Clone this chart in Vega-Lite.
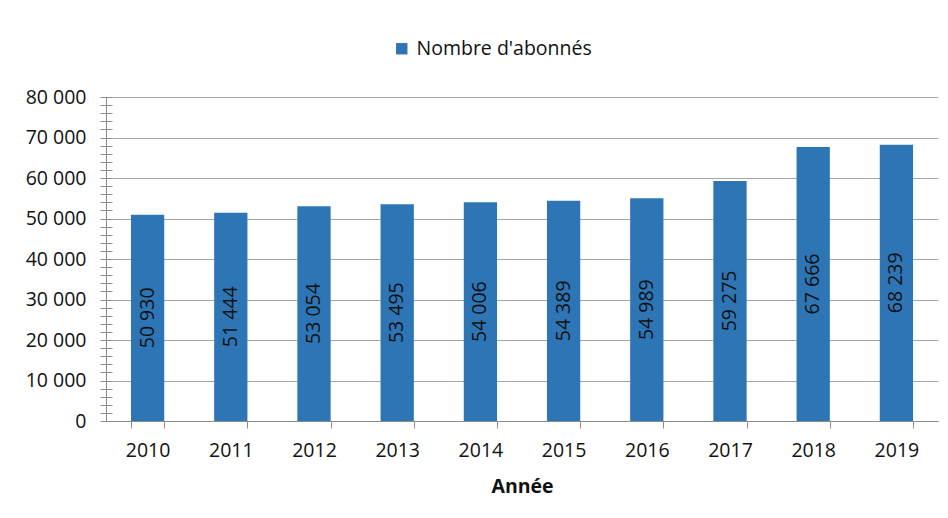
{
  "$schema": "https://vega.github.io/schema/vega-lite/v6.json",
  "width": 832,
  "height": 324,
  "autosize": {"type": "none"},
  "padding": {"left": 106, "top": 97, "right": 10, "bottom": 97},
  "background": "white",
  "config": {
    "locale": {"number": {"decimal": ",", "thousands": " ", "grouping": [3], "currency": ["", " €"]}},
    "font": "Open Sans",
    "view": {"stroke": null},
    "axis": {"labelFont": "Open Sans", "titleFont": "Open Sans", "labelColor": "#111111", "titleColor": "#111111"}
  },
  "data": {
    "values": [
      {"annee": "2010", "abonnes": 50930},
      {"annee": "2011", "abonnes": 51444},
      {"annee": "2012", "abonnes": 53054},
      {"annee": "2013", "abonnes": 53495},
      {"annee": "2014", "abonnes": 54006},
      {"annee": "2015", "abonnes": 54389},
      {"annee": "2016", "abonnes": 54989},
      {"annee": "2017", "abonnes": 59275},
      {"annee": "2018", "abonnes": 67666},
      {"annee": "2019", "abonnes": 68239}
    ]
  },
  "encoding": {
    "x": {
      "field": "annee",
      "type": "ordinal",
      "scale": {"paddingInner": 0.6, "paddingOuter": 0.3},
      "axis": {
        "title": "Année",
        "labelAngle": 0,
        "labelFontSize": 19.5,
        "labelPadding": 13,
        "tickBand": "extent",
        "tickSize": 7,
        "tickColor": "#8c8c8c",
        "domainColor": "#8c8c8c",
        "titleFontSize": 19.5,
        "titleFontWeight": "bold",
        "titlePadding": 18
      }
    }
  },
  "layer": [
    {
      "mark": {"type": "bar"},
      "encoding": {
        "y": {
          "field": "abonnes",
          "type": "quantitative",
          "scale": {"domain": [0, 80000], "nice": false},
          "axis": {
            "title": null,
            "values": [0, 10000, 20000, 30000, 40000, 50000, 60000, 70000, 80000],
            "format": ",d",
            "labelFontSize": 19.5,
            "labelPadding": 20,
            "ticks": false,
            "domainColor": "#8c8c8c",
            "gridColor": "#a6a6a6",
            "grid": true
          }
        },
        "color": {
          "datum": "Nombre d'abonnés",
          "scale": {"range": ["#2E75B6"]},
          "legend": {
            "title": null,
            "orient": "none",
            "legendX": 286,
            "legendY": -58,
            "symbolType": "square",
            "symbolSize": 130,
            "symbolStrokeWidth": 0,
            "labelOffset": 5,
            "labelLimit": 0,
            "labelFontSize": 19.5,
            "labelFont": "Open Sans",
            "labelColor": "#111111"
          }
        }
      }
    },
    {
      "transform": [{"calculate": "datum.abonnes / 2", "as": "milieu"}],
      "mark": {"type": "text", "angle": 270, "align": "center", "baseline": "middle", "fontSize": 19.5, "color": "#111111"},
      "encoding": {
        "y": {
          "field": "milieu",
          "type": "quantitative",
          "axis": {
            "orient": "left",
            "offset": -6,
            "title": null,
            "labels": false,
            "domain": false,
            "grid": false,
            "tickSize": 12,
            "tickColor": "#8c8c8c",
            "values": [0, 2000, 4000, 6000, 8000, 10000, 12000, 14000, 16000, 18000, 20000, 22000, 24000, 26000, 28000, 30000, 32000, 34000, 36000, 38000, 40000, 42000, 44000, 46000, 48000, 50000, 52000, 54000, 56000, 58000, 60000, 62000, 64000, 66000, 68000, 70000, 72000, 74000, 76000, 78000, 80000]
          }
        },
        "text": {"field": "abonnes", "type": "quantitative", "format": ",d"}
      }
    }
  ],
  "resolve": {"axis": {"y": "independent"}}
}
